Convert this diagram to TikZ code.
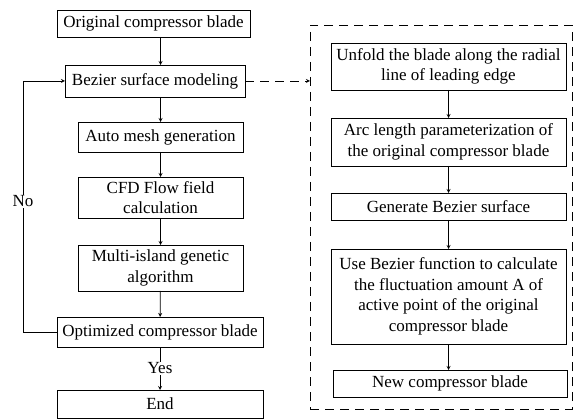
\documentclass[tikz,border=0pt]{standalone}
\usepackage{fontspec}
\setmainfont{Liberation Serif}
\usetikzlibrary{positioning}

\begin{document}
\begin{tikzpicture}[x=1pt,y=-1pt,outer sep=0pt,line width=0.8pt,
  font=\fontsize{17}{20.5}\selectfont]
\tikzstyle{box}=[draw=black, fill=white, align=center, inner sep=1pt,
    text centered]
\tikzstyle{arr}=[->, >=stealth]
\tikzstyle{dsh}=[dashed, dash pattern=on 9pt off 6pt]
\useasboundingbox (0,0) rectangle (575,419);
    % left column
    \node (o1) [box,minimum width=193, minimum height=27] at (153.5,23.5) {Original compressor blade};
    \node (o2) [box,minimum width=180, minimum height=32] at (155,81) {Bezier surface modeling};
    \node (o3) [box,minimum width=165, minimum height=30] at (160.5,137) {Auto mesh generation};
    \node (o4) [box,minimum width=165, minimum height=41] at (160.5,197.5) {CFD Flow field\\calculation};
    \node (o5) [box,minimum width=165, minimum height=46] at (160.5,268) {Multi-island genetic\\algorithm};
    \node (o6) [box,minimum width=206, minimum height=30] at (160,332) {Optimized compressor blade};
    \node (o7) [box,minimum width=206, minimum height=28] at (160,404) {End};
    % right column
    \node (grp) [draw, dsh, minimum width=262, minimum height=384] at (441,217) {};
    \node (r1) [box,minimum width=235, minimum height=47] at (448.5,66.5) {Unfold the blade along the radial\\line of leading edge};
    \node (r2) [box,minimum width=235, minimum height=48] at (448.5,142) {Arc length parameterization of\\the original compressor blade};
    \node (r3) [box,minimum width=235, minimum height=27] at (448.5,206.5) {Generate Bezier surface};
    \node (r4) [box,minimum width=235, minimum height=95] at (448.5,296.5) {Use Bezier function to calculate\\the fluctuation amount A of\\active point of the original\\compressor blade};
    \node (r5) [box,minimum width=234, minimum height=27] at (450,383.5) {New compressor blade};
    \coordinate (nl) at (23,332);

    \draw[arr] (o1.south -| o3) -- (o2.north -| o3);
    \draw[arr] (o2.south -| o3) -- (o3.north);
    \draw[arr] (o3) -- (o4);
    \draw[arr] (o4) -- (o5);
    \draw[arr] (o5) -- (o6);
    \draw[arr] (o6) -- node[fill=white, inner sep=1pt] {Yes} (o7);
    \draw[arr] (o6.west) -- (nl) -- node[fill=white, inner sep=1pt, pos=0.52] {No} (nl |- o2.west) -- (o2.west);
    \draw[arr, dsh] (o2.east) -- (o2.east -| grp.west);

    \draw[arr] (r1) -- (r2);
    \draw[arr] (r2) -- (r3);
    \draw[arr] (r3) -- (r4);
    \draw[arr] (r4.south) -- (r4.south |- r5.north);
\end{tikzpicture}
\end{document}
